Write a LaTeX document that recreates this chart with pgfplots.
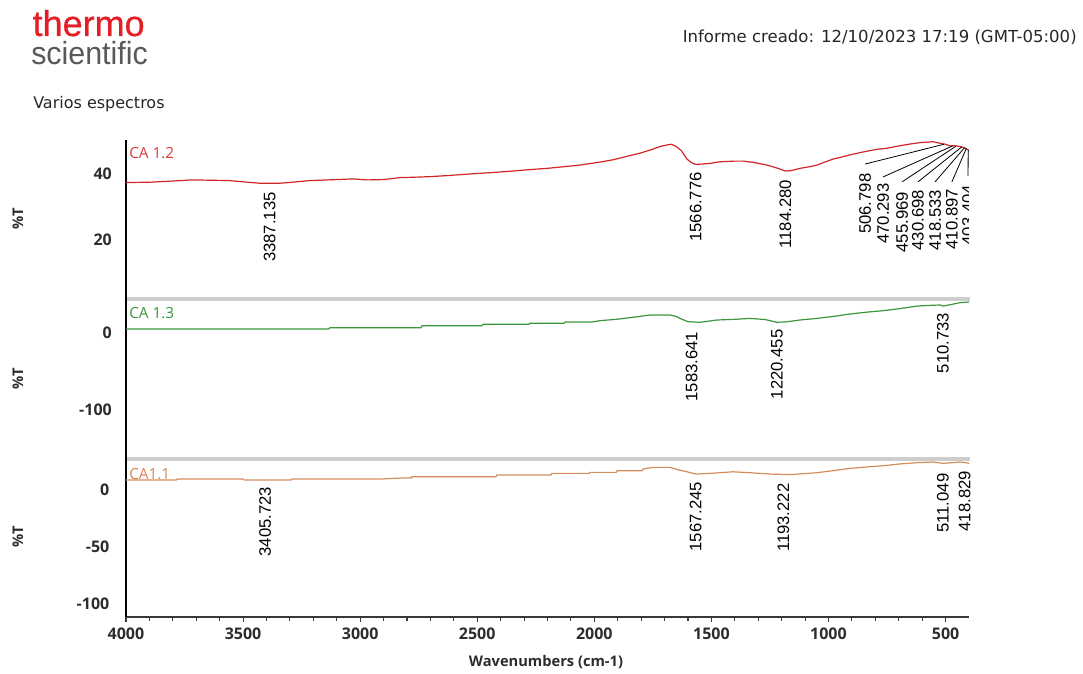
\documentclass[border=0pt]{standalone}
\usepackage{pgfplots}
\usepackage{pgfplotstable}
\pgfplotsset{compat=1.18}
\usepackage{fontspec}
\setmainfont{Open Sans}
\newfontfamily\osans{Open Sans}
\newfontfamily\lsans{Liberation Sans}
\newfontfamily\thermof[FakeBold=0.6]{Liberation Sans}
\newfontfamily\dsans{DejaVu Sans}
\definecolor{cred}{RGB}{210,38,38}
\definecolor{cgreen}{RGB}{58,150,58}
\definecolor{corange}{RGB}{212,140,92}
\definecolor{lred}{RGB}{222,56,56}
\definecolor{lgreen}{RGB}{58,150,58}
\definecolor{lorange}{RGB}{222,132,82}
\definecolor{sepgray}{RGB}{205,205,205}
\definecolor{tickgray}{RGB}{45,45,45}
\definecolor{thermored}{RGB}{228,30,38}
\definecolor{scigray}{RGB}{88,89,91}
\newcommand{\tickf}{\osans\bfseries\fontsize{12}{12}\selectfont}
\newcommand{\peakf}{\lsans\fontsize{12.5}{12.5}\selectfont}

\pgfplotstableread{
wn y
4000 37.4
3900 37.5
3842 37.7
3714 38.2
3560 38.0
3513 37.7
3430 37.2
3342 37.2
3290 37.5
3214 38.0
3100 38.3
3030 38.5
2970 38.2
2900 38.3
2830 38.9
2774 39.0
2700 39.2
2629 39.5
2550 39.9
2488 40.2
2420 40.5
2347 40.9
2280 41.3
2202 41.7
2130 42.2
2061 42.7
1976 43.6
1920 44.3
1835 45.8
1805 46.3
1760 47.3
1720 48.3
1690 48.8
1670 49.0
1650 48.3
1630 47.2
1604 44.5
1585 43.4
1566 42.9
1540 43.0
1506 43.2
1463 43.7
1400 43.9
1365 43.9
1320 43.5
1263 42.7
1220 41.8
1184 40.9
1160 41.0
1122 41.7
1080 42.2
1049 42.7
1020 43.5
981 44.5
940 45.2
908 45.8
850 46.7
800 47.4
750 47.8
700 48.5
650 49.1
609 49.5
570 49.7
554 49.8
524 49.3
500 49.0
481 48.5
460 48.6
439 48.3
420 48.0
404 47.3
400 47.0
}\redtab

\pgfplotstableread{
wn y
4000 5.2
3135 5.2
3129 6.9
2740 6.9
2736 9.5
2480 9.5
2475 11.3
2280 11.3
2275 12.6
2130 12.6
2125 14.3
2010 14.3
1976 16.0
1900 18.0
1820 21.0
1762 23.4
1677 23.4
1650 21.5
1634 19.0
1600 14.7
1549 13.9
1476 16.9
1400 17.8
1335 19.0
1270 17.5
1220 13.9
1180 14.5
1122 16.9
1049 19.0
980 21.5
908 24.7
840 27.0
767 29.0
700 31.5
622 35.0
560 36.0
524 36.4
510 35.0
480 36.8
439 39.4
400 40.3
}\greentab

\pgfplotstableread{
wn y
4000 8.8
3785 8.8
3782 9.6
3500 9.6
3495 8.8
3295 8.8
3291 9.6
2920 9.6
2830 10.5
2782 10.5
2779 11.7
2420 11.7
2416 13.2
2185 13.2
2181 14.6
2022 14.6
2019 15.5
1906 15.5
1903 17.0
1795 17.0
1792 18.4
1750 19.9
1677 19.9
1643 17.8
1604 16.0
1567 14.0
1506 14.6
1408 16.0
1335 15.2
1250 14.0
1193 13.7
1152 13.7
1049 15.2
980 17.0
908 19.0
840 20.2
767 21.3
700 22.8
622 24.0
554 24.6
511 23.4
480 23.9
439 24.6
420 24.2
400 23.4
}\orangetab

\tikzset{peak/.style={font=\peakf, rotate=90, anchor=east, inner sep=0pt, text=black}}
\pgfplotsset{
  panelbase/.style={
    scale only axis, width=632.25pt,
    xmin=400, xmax=4000, x dir=reverse,
    anchor=south west,
    axis y line=left,
    y axis line style={-, black, line width=1.5pt},
    ytick style={draw=none},
    yticklabel style={font=\tickf, text=tickgray, xshift=-5pt},
    /pgf/number format/assume math mode=true,
    /pgf/number format/1000 sep={},
    every axis plot/.append style={line width=0.9pt, line join=round},
  },
}

\begin{document}
\begin{tikzpicture}
\path[use as bounding box] (0pt,0pt) rectangle (812.25pt,505.5pt);

\begin{scope}[x=0.75pt,y=-0.75pt,shift={(0pt,505.5pt)}]
  \draw[sepgray, line width=3pt] (127,299) -- (970,299);
  \draw[sepgray, line width=3pt] (127,459.5) -- (970,459.5);
\end{scope}

% Panel 1
\begin{axis}[panelbase, at={(94.5pt,281.25pt)}, height=119.25pt,
  ymin=2.1, ymax=50.3, ytick={20,40}, axis x line=none]
  \addplot[cred] table[x=wn,y=y] {\redtab};
  \node[peak] at (axis cs:3387,34.5) {3387.135};
  \node[peak] at (axis cs:1567,40.6) {1566.776};
  \node[peak] at (axis cs:1184,38.2) {1184.280};
  \node[peak] at (axis cs:844,40.2) {506.798};
  \node[peak] at (axis cs:767,37.2) {470.293};
  \node[peak] at (axis cs:686,34.6) {455.969};
  \node[peak] at (axis cs:618,35.2) {430.698};
  \node[peak] at (axis cs:545,35.2) {418.533};
  \node[peak] at (axis cs:473,35.5) {410.897};
  \node[peak] at (axis cs:404,36.7) {403.404};
  \draw[black, line width=0.6pt] (axis cs:844,43.0) -- (axis cs:507,49.0);
  \draw[black, line width=0.6pt] (axis cs:767,39.1) -- (axis cs:470,48.5);
  \draw[black, line width=0.6pt] (axis cs:686,37.6) -- (axis cs:456,48.4);
  \draw[black, line width=0.6pt] (axis cs:618,37.6) -- (axis cs:431,48.2);
  \draw[black, line width=0.6pt] (axis cs:545,37.6) -- (axis cs:418.5,48.0);
  \draw[black, line width=0.6pt] (axis cs:473,37.6) -- (axis cs:411,47.8);
  \draw[black, line width=0.6pt] (axis cs:404,39.4) -- (axis cs:403.4,47.3);
\end{axis}

% Panel 2
\begin{axis}[panelbase, at={(94.5pt,160.875pt)}, height=120.375pt,
  ymin=-164.3, ymax=44.2, ytick={-100,0}, axis x line=none]
  \addplot[cgreen] table[x=wn,y=y] {\greentab};
  \node[peak] at (axis cs:1584,1.7) {1583.641};
  \node[peak] at (axis cs:1220,4.8) {1220.455};
  \node[peak] at (axis cs:511,26.4) {510.733};
\end{axis}

% Panel 3
\begin{axis}[panelbase, at={(94.5pt,42.75pt)}, height=118.125pt,
  ymin=-111.4, ymax=26.8, ytick={-100,-50,0},
  axis x line=bottom, clip=false,
  x axis line style={-, line width=1.3pt, color=gray!45!black},
  xtick={500,1000,...,4000}, minor x tick num=4,
  tick align=outside,
  xtick style={color=gray!45!black, line width=0.8pt},
  major tick length=4pt, minor tick length=3pt,
  xticklabel style={font=\tickf, text=tickgray, yshift=-1pt}]
  \addplot[corange] table[x=wn,y=y] {\orangetab};
  \node[peak] at (axis cs:3406,2.9) {3405.723};
  \node[peak] at (axis cs:1567,7.3) {1567.245};
  \node[peak] at (axis cs:1193,5.9) {1193.222};
  \node[peak] at (axis cs:511,14.6) {511.049};
  \node[peak] at (axis cs:419,16.9) {418.829};
\end{axis}

\begin{scope}[x=0.75pt,y=-0.75pt,shift={(0pt,505.5pt)}]
  % header (logo as one text)
  \node[anchor=base west, inner sep=0pt] at (31,65)
    {\rlap{\hspace{1pt}\raisebox{21.75pt}{\thermof\fontsize{27}{27}\selectfont\color{thermored}thermo}}%
     {\lsans\fontsize{24}{24}\selectfont\color{scigray}\scalebox{0.95}[1]{scientific}}};
  \node[anchor=base east, inner sep=0pt, text=black!85, font=\dsans\fontsize{12.4}{12.4}\selectfont] at (1077,43) {Informe creado: 12/10/2023 17:19 (GMT-05:00)};
  \node[anchor=base west, inner sep=0pt, text=black!85, font=\dsans\fontsize{12}{12}\selectfont] at (33,109) {Varios espectros};
  % panel labels
  \node[anchor=base west, inner sep=0pt, text=lred, font=\osans\fontsize{11.5}{11.5}\selectfont] at (129,159) {CA 1.2};
  \node[anchor=base west, inner sep=0pt, text=lgreen, font=\osans\fontsize{11.5}{11.5}\selectfont] at (129,319) {CA 1.3};
  \node[anchor=base west, inner sep=0pt, text=lorange, font=\osans\fontsize{11.5}{11.5}\selectfont] at (129,480) {CA1.1};
  % y labels
  \node[rotate=90, inner sep=0pt, text=tickgray, font=\osans\bfseries\fontsize{11}{11}\selectfont] at (18,219) {\%T};
  \node[rotate=90, inner sep=0pt, text=tickgray, font=\osans\bfseries\fontsize{11}{11}\selectfont] at (18,379) {\%T};
  \node[rotate=90, inner sep=0pt, text=tickgray, font=\osans\bfseries\fontsize{11}{11}\selectfont] at (18,537) {\%T};
  % x label
  \node[anchor=base, inner sep=0pt, text=tickgray, font=\osans\bfseries\fontsize{11}{11}\selectfont] at (546,667) {Wavenumbers (cm-1)};
\end{scope}
\end{tikzpicture}
\end{document}
